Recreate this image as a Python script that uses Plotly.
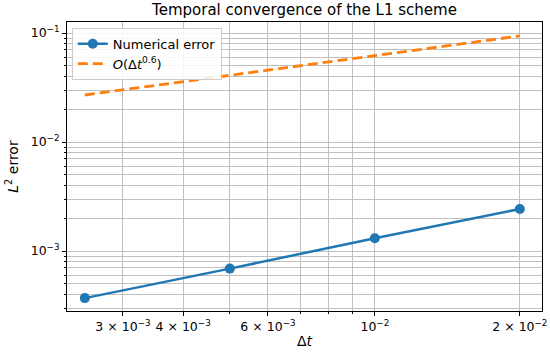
import plotly.graph_objects as go

dt = [0.0025, 0.005, 0.01, 0.02]
err = [3.7e-4, 6.9e-4, 1.31e-3, 2.43e-3]
ref = [0.027, 0.041, 0.062, 0.094]

x_major = [0.01, 0.02]
x_major_text = ["10<sup>−2</sup>", "2 × 10<sup>−2</sup>"]
x_minor = [0.003, 0.004, 0.005, 0.006, 0.007, 0.008, 0.009]
x_minor_labels = {0.003: "3 × 10<sup>−3</sup>", 0.004: "4 × 10<sup>−3</sup>", 0.006: "6 × 10<sup>−3</sup>"}
y_major = [1e-3, 1e-2, 1e-1]
y_major_text = ["10<sup>−3</sup>", "10<sup>−2</sup>", "10<sup>−1</sup>"]
y_minor = [m * 10.0 ** e for e in (-4, -3, -2, -1) for m in range(2, 10)]

FONT = "DejaVu Sans"
GRID = "#c0c0c0"

fig = go.Figure()
fig.add_trace(go.Scatter(x=dt, y=err, mode="lines+markers", name="Numerical error",
                         line=dict(color="#1f77b4", width=2.5),
                         marker=dict(color="#1f77b4", size=10)))
fig.add_trace(go.Scatter(x=dt, y=ref, mode="lines", name="<i>O</i>(Δ<i>t</i><sup>0.6</sup>)",
                         line=dict(color="#ff7f0e", width=2.8, dash="10px,5px")))

tickvals = x_major + list(x_minor_labels.keys())
ticktext = x_major_text + list(x_minor_labels.values())

fig.update_layout(
    width=550, height=354,
    margin=dict(l=67, r=8, t=22, b=43),
    paper_bgcolor="white", plot_bgcolor="white",
    font=dict(family=FONT, size=12.5, color="black"),
    title=dict(text="Temporal convergence of the L1 scheme", x=0.5, xanchor="center",
               xref="paper", y=0.972, yanchor="middle", font=dict(size=15)),
    showlegend=True,
    legend=dict(x=0.01, y=0.98, xanchor="left", yanchor="top",
                bgcolor="rgba(255,255,255,0.85)", bordercolor="#cccccc", borderwidth=1,
                font=dict(size=13)),
    xaxis=dict(type="log", range=[-2.639, -1.653], automargin=False,
               tickmode="array", tickvals=tickvals, ticktext=ticktext,
               showgrid=True, gridcolor=GRID, gridwidth=1,
               ticks="outside", ticklen=4, tickcolor="black",
               showline=True, mirror=True, linecolor="black", linewidth=1,
               minor=dict(tickmode="array", tickvals=x_minor, showgrid=True,
                          gridcolor=GRID, gridwidth=1, ticks="outside", ticklen=2,
                          tickcolor="black"),
               title=dict(text="Δ<i>t</i>", standoff=3, font=dict(size=14)),
               zeroline=False),
    yaxis=dict(type="log", range=[-3.55, -0.899], automargin=False,
               tickmode="array", tickvals=y_major, ticktext=y_major_text,
               showgrid=True, gridcolor=GRID, gridwidth=1,
               ticks="outside", ticklen=4, tickcolor="black",
               showline=True, mirror=True, linecolor="black", linewidth=1,
               minor=dict(tickmode="array", tickvals=y_minor, showgrid=True,
                          gridcolor=GRID, gridwidth=1, ticks="outside", ticklen=2,
                          tickcolor="black"),
               title=dict(text="<i>L</i><sup>2</sup> error", standoff=8, font=dict(size=14)),
               zeroline=False),
)

fig.write_html("out.html", config={"displayModeBar": False},
               post_script="document.body.style.margin='0';")
